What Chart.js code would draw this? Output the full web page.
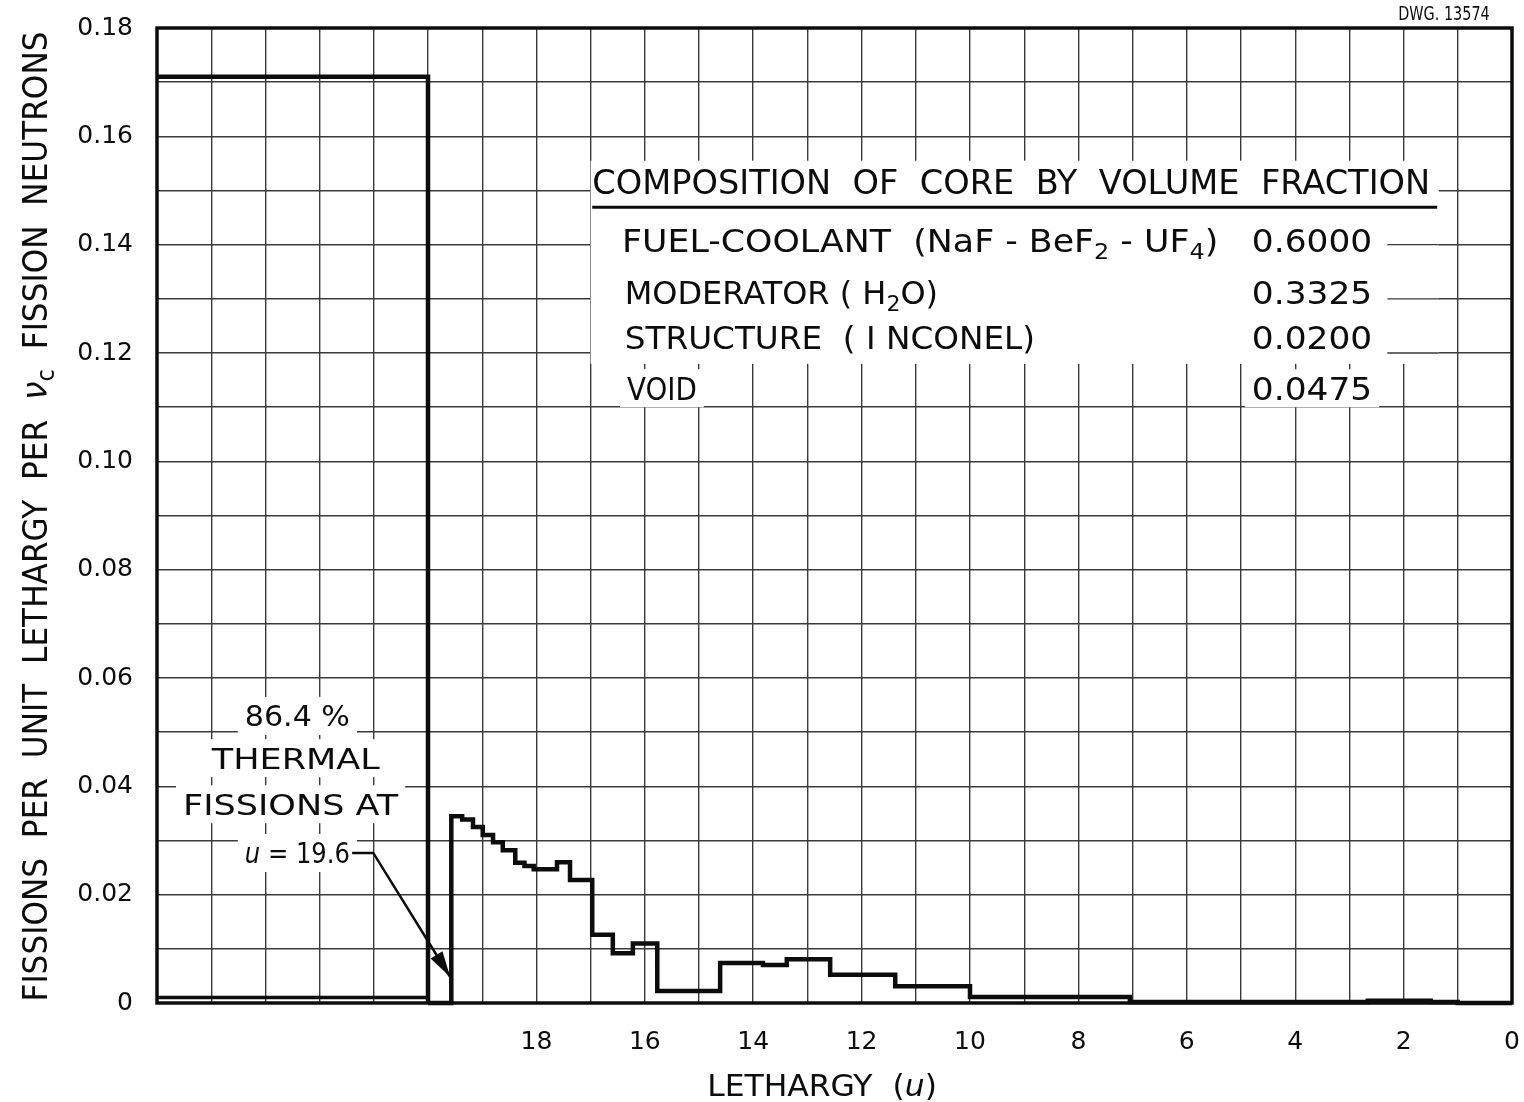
<!DOCTYPE html>
<html lang="en">
<head>
<meta charset="UTF-8">
<title>Fissions per unit lethargy</title>
<style>
  body { margin: 0; background: #fff; }
  canvas { display: block; }
</style>
</head>
<body>
<canvas id="chart" width="1524" height="1102"></canvas>
<script src="https://cdn.jsdelivr.net/npm/chart.js@4"></script>
<script>
// epithermal fissions: lethargy where each step begins, value held until the next step
const binStart = [20, 19.57, 19.37, 19.17, 18.99, 18.80, 18.62, 18.39, 18.22, 18.05, 17.62, 17.38, 16.97, 16.59, 16.22, 15.77, 14.61, 13.82, 13.38, 12.58, 11.38, 10.0, 7.05, 2.66, 1.5, 1.0, 0];
const binValue = [0, 0.0345, 0.0339, 0.0325, 0.0310, 0.0297, 0.0282, 0.0259, 0.0253, 0.0247, 0.0260, 0.0227, 0.0126, 0.0092, 0.0110, 0.0022, 0.0074, 0.0070, 0.0081, 0.0052, 0.0031, 0.0011, 0.0002, 0.0004, 0.0002, 0, 0];

// thermal group (u > 20) drawn as a block, plus the low level inside it
const thermalU = [25, 20, 20];
const thermalValue = [0.171, 0.171, 0];
const lowU = [25, 20];
const lowValue = [0.001, 0.001];

const xTickLabels = [18, 16, 14, 12, 10, 8, 6, 4, 2, 0];
const compNames = ['FUEL-COOLANT', 'MODERATOR', 'STRUCTURE', 'VOID'];
const compFractions = ['0.6000', '0.3325', '0.0200', '0.0475'];

const INK = '#0c0c0c';
const GRID = '#3a3a3a';
const FAM = '"DejaVu Sans", sans-serif';
const f = (size, style) => (style ? style + ' ' : '') + size + 'px ' + FAM;

const toPoints = (xs, ys) => xs.map((x, i) => ({ x: x, y: ys[i] }));

// draws a run of text pieces squeezed to a given width, y is the cap centre
function drawParts(ctx, parts, x, y, width, align, erase) {
    let natural = 0;
    parts.forEach(p => { ctx.font = p.font; natural += ctx.measureText(p.text).width; });
    const w = width || natural;
    const sx = w / natural;
    const left = align === 'center' ? x - w / 2 : x;
    if (erase) {
        ctx.fillStyle = '#fff';
        ctx.fillRect(left - 7, y - 19, w + 14, 38);
    }
    ctx.save();
    ctx.translate(left, y + 3);
    ctx.scale(sx, 1);
    ctx.fillStyle = INK;
    ctx.textAlign = 'left';
    ctx.textBaseline = 'middle';
    let cx = 0;
    parts.forEach(p => {
        ctx.font = p.font;
        ctx.fillText(p.text, cx, p.dy || 0);
        cx += ctx.measureText(p.text).width;
    });
    ctx.restore();
}

const paper = {
    id: 'paper',
    beforeDraw(chart) {
        const ctx = chart.ctx;
        ctx.save();
        ctx.fillStyle = '#fff';
        ctx.fillRect(0, 0, chart.width, chart.height);
        ctx.restore();
    },
    beforeDatasetsDraw(chart) {
        const ctx = chart.ctx;
        const X = v => chart.scales.x.getPixelForValue(v);
        const Y = v => chart.scales.y.getPixelForValue(v);
        ctx.save();

        // table of core composition
        ctx.fillStyle = '#fff';
        ctx.fillRect(X(17.0), Y(0.1555), X(1.35) - X(17.0), Y(0.118) - Y(0.1555));
        ctx.strokeStyle = GRID;
        ctx.lineWidth = 1.4;
        [0.14, 0.13, 0.12].forEach(v => {
            ctx.beginPath();
            ctx.moveTo(X(2.3), Y(v));
            ctx.lineTo(X(1.35), Y(v));
            ctx.stroke();
        });

        const big = f(32), sub = f(22);
        drawParts(ctx, [{ text: 'COMPOSITION  OF  CORE  BY  VOLUME  FRACTION', font: f(33) }], X(16.97), Y(0.1514), X(1.51) - X(16.97));
        ctx.strokeStyle = INK;
        ctx.lineWidth = 3;
        ctx.beginPath();
        ctx.moveTo(X(16.97), Y(0.1469));
        ctx.lineTo(X(1.38), Y(0.1469));
        ctx.stroke();

        const rows = [
            [[{ text: compNames[0] + '  (NaF - BeF', font: big }, { text: '2', font: sub, dy: 9 }, { text: ' - UF', font: big }, { text: '4', font: sub, dy: 9 }, { text: ')', font: big }], 16.42, 5.42, 0.1407],
            [[{ text: compNames[1] + ' ( H', font: big }, { text: '2', font: sub, dy: 9 }, { text: 'O)', font: big }], 16.37, 10.59, 0.1311],
            [[{ text: compNames[2] + '  ( I NCONEL)', font: big }], 16.37, 8.80, 0.1228],
            [[{ text: compNames[3], font: big }], 16.33, 15.04, 0.1135]
        ];
        rows.forEach((r, i) => {
            drawParts(ctx, r[0], X(r[1]), Y(r[3]), X(r[2]) - X(r[1]), 'left', true);
            drawParts(ctx, [{ text: compFractions[i], font: big }], X(4.80), Y(r[3]), X(2.58) - X(4.80), 'left', true);
        });

        // thermal fission note
        const nf = f(29);
        const note = [
            [[{ text: '86.4 %', font: nf }], 23.38, 21.44, 0.0530],
            [[{ text: 'THERMAL', font: nf }], 23.99, 20.89, 0.0452],
            [[{ text: 'FISSIONS AT', font: nf }], 24.52, 20.55, 0.0367],
            [[{ text: 'u', font: f(29, 'italic') }, { text: ' = 19.6', font: nf }], 23.38, 21.44, 0.0277]
        ];
        note.forEach(r => drawParts(ctx, r[0], X(r[1]), Y(r[3]), X(r[2]) - X(r[1]), 'left', true));
        ctx.restore();
    },
    afterDatasetsDraw(chart) {
        const ctx = chart.ctx;
        const a = chart.chartArea;
        const X = v => chart.scales.x.getPixelForValue(v);
        const Y = v => chart.scales.y.getPixelForValue(v);
        ctx.save();

        // leader and arrow to u = 19.6
        const p0 = [X(21.40), Y(0.0277)], p1 = [X(21.01), Y(0.0277)], tip = [X(19.59), Y(0.0048)];
        ctx.strokeStyle = INK;
        ctx.lineWidth = 2.5;
        ctx.beginPath();
        ctx.moveTo(p0[0], p0[1]);
        ctx.lineTo(p1[0], p1[1]);
        ctx.lineTo(tip[0], tip[1]);
        ctx.stroke();
        const dx = tip[0] - p1[0], dy = tip[1] - p1[1], len = Math.hypot(dx, dy);
        const ux = dx / len, uy = dy / len;
        const bx = tip[0] - ux * 26, by = tip[1] - uy * 26;
        ctx.fillStyle = INK;
        ctx.beginPath();
        ctx.moveTo(tip[0], tip[1]);
        ctx.lineTo(bx - uy * 7, by + ux * 7);
        ctx.lineTo(bx + uy * 7, by - ux * 7);
        ctx.closePath();
        ctx.fill();

        // frame
        ctx.lineWidth = 3.5;
        ctx.strokeRect(a.left, a.top, a.right - a.left, a.bottom - a.top);

        // axis titles
        drawParts(ctx, [{ text: 'LETHARGY  (', font: f(31) }, { text: 'u', font: f(31, 'italic') }, { text: ')', font: f(31) }], X(14.85), a.bottom + 82, X(10.61) - X(14.85));
        ctx.save();
        ctx.translate(a.left - 122, (a.top + a.bottom) / 2 + 1);
        ctx.rotate(-Math.PI / 2);
        drawParts(ctx, [
            { text: 'FISSIONS  PER  UNIT  LETHARGY  PER  ', font: f(33) },
            { text: 'ν', font: f(35, 'italic') },
            { text: 'c', font: f(24), dy: 10 },
            { text: '  FISSION  NEUTRONS', font: f(33) }
        ], 0, 0, 970, 'center');
        ctx.restore();

        drawParts(ctx, [{ text: 'DWG. 13574', font: f(20) }], X(2.1), a.top - 16, X(0.41) - X(2.1));
        ctx.restore();
    }
};

const noOverhang = s => { s.paddingTop = 0; s.paddingBottom = 0; s.paddingLeft = 0; s.paddingRight = 0; };

new Chart(document.getElementById('chart'), {
    type: 'line',
    data: {
        datasets: [
            {
                data: toPoints(thermalU, thermalValue),
                borderColor: INK,
                borderWidth: 4.5,
                pointRadius: 0,
                clip: 10
            },
            {
                data: toPoints(lowU, lowValue),
                borderColor: INK,
                borderWidth: 3.5,
                pointRadius: 0,
                clip: 10
            },
            {
                data: toPoints(binStart, binValue),
                borderColor: INK,
                borderWidth: 4.5,
                pointRadius: 0,
                stepped: 'before',
                clip: 10
            }
        ]
    },
    options: {
        responsive: false,
        animation: false,
        layout: { autoPadding: false, padding: { left: 70, top: 28, right: 12, bottom: 0 } },
        plugins: { legend: { display: false }, tooltip: { enabled: false } },
        scales: {
            x: {
                type: 'linear',
                min: 0,
                max: 25,
                reverse: true,
                afterFit(s) { s.height = 99; noOverhang(s); },
                grid: { color: GRID, lineWidth: 1.4, drawTicks: false },
                border: { display: false },
                ticks: {
                    stepSize: 1,
                    autoSkip: false,
                    maxRotation: 0,
                    padding: 24,
                    color: INK,
                    font: { family: 'DejaVu Sans', size: 25 },
                    callback: v => xTickLabels.includes(v) ? String(v) : ''
                }
            },
            y: {
                min: 0,
                max: 0.18,
                afterFit(s) { s.width = 87; noOverhang(s); },
                grid: { color: GRID, lineWidth: 1.4, drawTicks: false },
                border: { display: false },
                ticks: {
                    stepSize: 0.01,
                    autoSkip: false,
                    padding: 24,
                    color: INK,
                    font: { family: 'DejaVu Sans', size: 25 },
                    callback: v => {
                        const k = Math.round(v * 100);
                        if (k % 2) return '';
                        return k === 0 ? '0' : (k / 100).toFixed(2);
                    }
                }
            }
        }
    },
    plugins: [paper]
});
</script>
</body>
</html>
